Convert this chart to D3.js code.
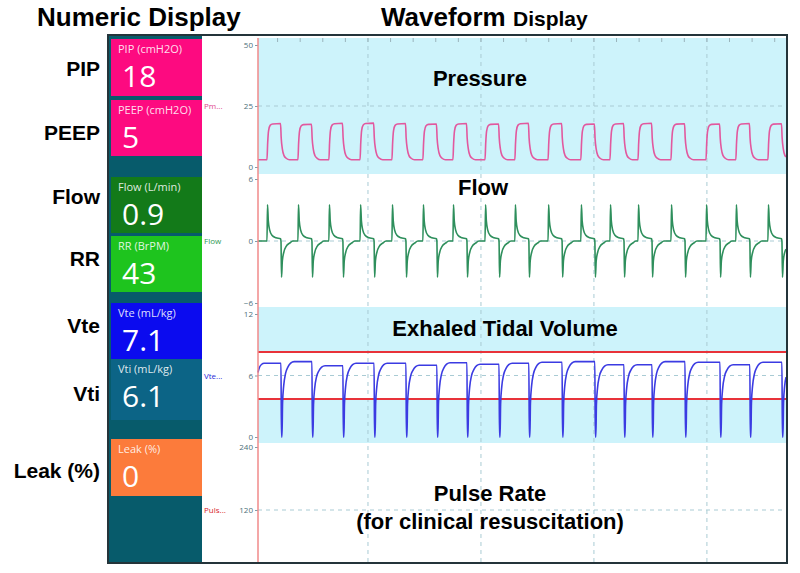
<!DOCTYPE html>
<html>
<head>
<meta charset="utf-8">
<script src="https://cdn.jsdelivr.net/npm/d3@7"></script>
<style>
  body { margin: 0; background: #fff; }
  .hdr { font-family: Arial, "Liberation Sans", sans-serif; font-weight: bold; fill: #000; }
  .tile-name { font-family: "Open Sans", sans-serif; font-size: 11px; fill: #fff; fill-opacity: 0.88; }
  .tile-val { font-family: "Open Sans", sans-serif; font-size: 30px; fill: #fff; }
  .axis text { font-family: "Open Sans", sans-serif; font-size: 8px; fill: #4d6f7a; }
  .axis line { stroke: #7f9ea8; }
</style>
</head>
<body>
<svg id="chart" width="800" height="573"></svg>
<script>
// ---- numeric display ----
const sideLabels = ["PIP", "PEEP", "Flow", "RR", "Vte", "Vti", "Leak (%)"];
const sideBaselines = [76, 140, 204, 266, 333, 401, 478];
const tileNames = ["PIP (cmH2O)", "PEEP (cmH2O)", "Flow (L/min)", "RR (BrPM)", "Vte (mL/kg)", "Vti (mL/kg)", "Leak (%)"];
const tileValues = ["18", "5", "0.9", "43", "7.1", "6.1", "0"];
const tileColors = ["#fd0a80", "#fd0a80", "#137a19", "#1ec41e", "#0b0bef", "#0c6486", "#fc7b3b"];
const tileTops = [39, 100, 177, 236, 303, 359, 439];
const tileHeights = [57, 56, 56, 56, 56, 61, 57];

// ---- waveforms (time in seconds) ----
const timeDomain = [0.133, 23.5];
const gridSeconds = [5, 10, 15, 20];
const breathOnsets = [0.53, 1.90, 3.27, 4.65, 6.06, 7.43, 8.76, 10.18, 11.50, 12.97, 14.42, 15.71, 16.95, 18.41, 19.96, 21.28, 22.70];

const pressureBase = 3;
const pressurePeaks = [17.8, 17.5, 17.9, 18.0, 17.8, 17.6, 17.8, 17.6, 17.9, 17.8, 17.6, 17.8, 17.9, 17.7, 17.6, 17.8, 17.7];
// one breath of pressure: [seconds after onset, fraction of peak above base]
const pressureShape = [[0, 0], [0.03, 0.45], [0.07, 0.8], [0.14, 0.95], [0.25, 0.99], [0.6, 1], [0.63, 0.6], [0.68, 0.3], [0.75, 0.12], [0.85, 0.04], [1.0, 0]];

const flowPeakIn = [3.5, 3.5, 3.5, 3.5, 3.5, 3.5, 3.5, 3.5, 3.5, 3.5, 3.5, 3.5, 3.5, 3.5, 3.5, 3.5, 3.5];
const flowPeakOut = [-3.5, -3.5, -3.5, -3.5, -3.5, -3.5, -3.5, -3.5, -3.5, -3.5, -3.5, -3.5, -3.5, -3.5, -3.5, -3.5, -3.5];
// one breath of flow: [seconds after onset, fraction of the inspiratory (+) or expiratory (-) peak]
const flowShape = [[0, 0], [0.025, 1], [0.06, 0.55], [0.12, 0.3], [0.22, 0.16], [0.4, 0.09], [0.6, 0.06], [0.62, 0], [0.645, -1], [0.68, -0.55], [0.75, -0.3], [0.85, -0.15], [1.0, -0.06], [1.15, 0]];

// plateau before the first breath, then after each breath
const volumeLevels = [7.2, 7.35, 6.95, 7.2, 7.2, 7.0, 7.25, 7.1, 7.2, 7.3, 7.35, 7.05, 7.05, 7.35, 7.3, 7.05, 7.3, 7.3];
const volumeStart = [[0.133, 6.3], [0.2, 6.8], [0.3, 7.1], [0.4, 7.2]];
// one exhalation of volume: [seconds after onset, fraction of plateau]
const volumeShape = [[0.64, 0], [0.665, 0], [0.69, 0.45], [0.74, 0.68], [0.82, 0.84], [0.93, 0.93], [1.05, 0.98], [1.2, 1]];
const volumeDropAt = 0.62;
const volumeAlarms = [8.3, 3.7];

const pressureTicks = [0, 25, 50];
const flowTicks = [-6, 0, 6];
const volumeTicks = [0, 6, 12];
const pulseTicks = [120, 240];

const svg = d3.select("#chart");

// headers
svg.append("text").attr("class", "hdr").attr("x", 37).attr("y", 26).attr("font-size", 26).text("Numeric Display");
const wh = svg.append("text").attr("class", "hdr").attr("x", 381).attr("y", 26).attr("font-size", 26);
wh.append("tspan").text("Waveform ");
wh.append("tspan").attr("font-size", 21).text("Display");

svg.selectAll(".side").data(sideLabels).enter().append("text")
  .attr("class", "hdr").attr("x", 100).attr("y", (d, i) => sideBaselines[i])
  .attr("text-anchor", "end").attr("font-size", 21).text(d => d);

// frame and numeric panel
const frame = { x0: 108, y0: 35, x1: 787, y1: 563 };
svg.append("rect").attr("x", frame.x0).attr("y", frame.y0).attr("width", 202 - frame.x0).attr("height", frame.y1 - frame.y0).attr("fill", "#075b6b");

const tiles = svg.selectAll(".tile").data(tileNames).enter().append("g")
  .attr("transform", (d, i) => `translate(111,${tileTops[i]})`);
tiles.append("rect").attr("width", 91).attr("height", (d, i) => tileHeights[i]).attr("fill", (d, i) => tileColors[i]);
tiles.append("text").attr("class", "tile-name").attr("x", 7).attr("y", 14).text(d => d);
tiles.append("text").attr("class", "tile-val").attr("x", 11).attr("y", 48).text((d, i) => tileValues[i]);

// scales
const x = d3.scaleLinear().domain(timeDomain).range([258, 786]);
const yP = d3.scaleLinear().domain([0, 50]).range([167, 45]);
const yF = d3.scaleLinear().domain([-6, 6]).range([303, 179]);
const yV = d3.scaleLinear().domain([0, 12]).range([437, 314]);
const yPulse = d3.scaleLinear().domain([0, 240]).range([573, 447]);

const plotL = 258, plotR = 786;
const lightBlue = "#cdf3fb";
// panel backgrounds
svg.append("rect").attr("x", plotL).attr("y", 38).attr("width", plotR - plotL).attr("height", 174 - 38).attr("fill", lightBlue);
svg.append("rect").attr("x", plotL).attr("y", 307).attr("width", plotR - plotL).attr("height", 443 - 307).attr("fill", lightBlue);
svg.append("rect").attr("x", plotL).attr("y", yV(volumeAlarms[0])).attr("width", plotR - plotL)
  .attr("height", yV(volumeAlarms[1]) - yV(volumeAlarms[0])).attr("fill", "#fff");

// grid
const grid = svg.append("g").attr("stroke", "#a9cbd4").attr("stroke-dasharray", "4,4").attr("stroke-width", 1);
grid.selectAll("line.v").data(gridSeconds).enter().append("line")
  .attr("x1", d => x(d)).attr("x2", d => x(d)).attr("y1", 38).attr("y2", frame.y1);
[[yP, 25], [yF, 0], [yV, 6], [yPulse, 120]].forEach(([s, v]) => {
  grid.append("line").attr("x1", plotL).attr("x2", plotR).attr("y1", s(v)).attr("y2", s(v));
});
// minor second ticks along top of the pressure panel
svg.append("g").attr("stroke", "#9ab4bc").selectAll("line").data(d3.range(1, 24)).enter().append("line")
  .attr("x1", d => x(d)).attr("x2", d => x(d)).attr("y1", 38).attr("y2", 42);

// axes
function leftAxis(scale, ticks) {
  const g = svg.append("g").attr("class", "axis").attr("transform", `translate(${plotL},0)`)
    .call(d3.axisLeft(scale).tickValues(ticks).tickSize(3).tickPadding(2));
  g.select(".domain").remove();
}
leftAxis(yP, pressureTicks);
leftAxis(yF, flowTicks);
leftAxis(yV, volumeTicks);
leftAxis(yPulse, pulseTicks);

// signal names
const names = [["Pm...", yP(25) + 3, "#e0468c"], ["Flow", yF(0) + 3, "#2e9a55"], ["Vte...", yV(6) + 3, "#2a2ad8"], ["Puls...", yPulse(120) + 3, "#d8202c"]];
svg.selectAll(".sig").data(names).enter().append("text")
  .attr("x", 204).attr("y", d => d[1]).attr("font-family", "Open Sans, sans-serif").attr("font-size", 8)
  .attr("fill", d => d[2]).text(d => d[0]);

// build traces
const tEnd = timeDomain[1];
const pressurePts = [[timeDomain[0], pressureBase]];
breathOnsets.forEach((t0, i) => {
  pressureShape.forEach(([dt, f]) => pressurePts.push([t0 + dt, pressureBase + f * (pressurePeaks[i] - pressureBase)]));
});
const flowPts = [[timeDomain[0], 0]];
breathOnsets.forEach((t0, i) => {
  flowShape.forEach(([dt, f]) => flowPts.push([t0 + dt, f >= 0 ? f * flowPeakIn[i] : -f * flowPeakOut[i]]));
});
const volumePts = volumeStart.slice();
breathOnsets.forEach((t0, i) => {
  volumePts.push([t0 + volumeDropAt, volumeLevels[i]]);
  volumeShape.forEach(([dt, f]) => volumePts.push([t0 + dt, f * volumeLevels[i + 1]]));
});
function clipTo(pts) {
  const out = [];
  for (let k = 0; k < pts.length; k++) {
    const p = pts[k];
    if (p[0] <= tEnd) { out.push(p); continue; }
    const q = pts[k - 1];
    out.push([tEnd, q[1] + (p[1] - q[1]) * (tEnd - q[0]) / (p[0] - q[0])]);
    break;
  }
  return out;
}

function trace(pts, yScale, color, width) {
  svg.append("path").datum(clipTo(pts))
    .attr("fill", "none").attr("stroke", color).attr("stroke-width", width).attr("stroke-linejoin", "round")
    .attr("d", d3.line().x(d => x(d[0])).y(d => yScale(d[1])).curve(d3.curveMonotoneX));
}
trace(pressurePts, yP, "#e2589e", 1.6);
trace(flowPts, yF, "#2e8f5c", 1.6);

// volume alarm limits
svg.append("g").attr("stroke", "#e8323a").attr("stroke-width", 2).selectAll("line").data(volumeAlarms).enter().append("line")
  .attr("x1", plotL).attr("x2", plotR).attr("y1", d => yV(d)).attr("y2", d => yV(d));
trace(volumePts, yV, "#3b3be2", 1.6);

// time axis line
svg.append("line").attr("x1", plotL).attr("x2", plotL).attr("y1", 38).attr("y2", frame.y1)
  .attr("stroke", "#f08a8a").attr("stroke-width", 1.5);

// panel titles
const titles = [["Pressure", 480, 86], ["Flow", 483, 195], ["Exhaled Tidal Volume", 505, 336], ["Pulse Rate", 490, 501], ["(for clinical resuscitation)", 490, 529]];
svg.selectAll(".ttl").data(titles).enter().append("text")
  .attr("class", "hdr").attr("x", d => d[1]).attr("y", d => d[2]).attr("text-anchor", "middle")
  .attr("font-size", 22).text(d => d[0]);

// outer frame
svg.append("rect").attr("x", frame.x0).attr("y", frame.y0).attr("width", frame.x1 - frame.x0).attr("height", frame.y1 - frame.y0)
  .attr("fill", "none").attr("stroke", "#24343a").attr("stroke-width", 2);
</script>
</body>
</html>
